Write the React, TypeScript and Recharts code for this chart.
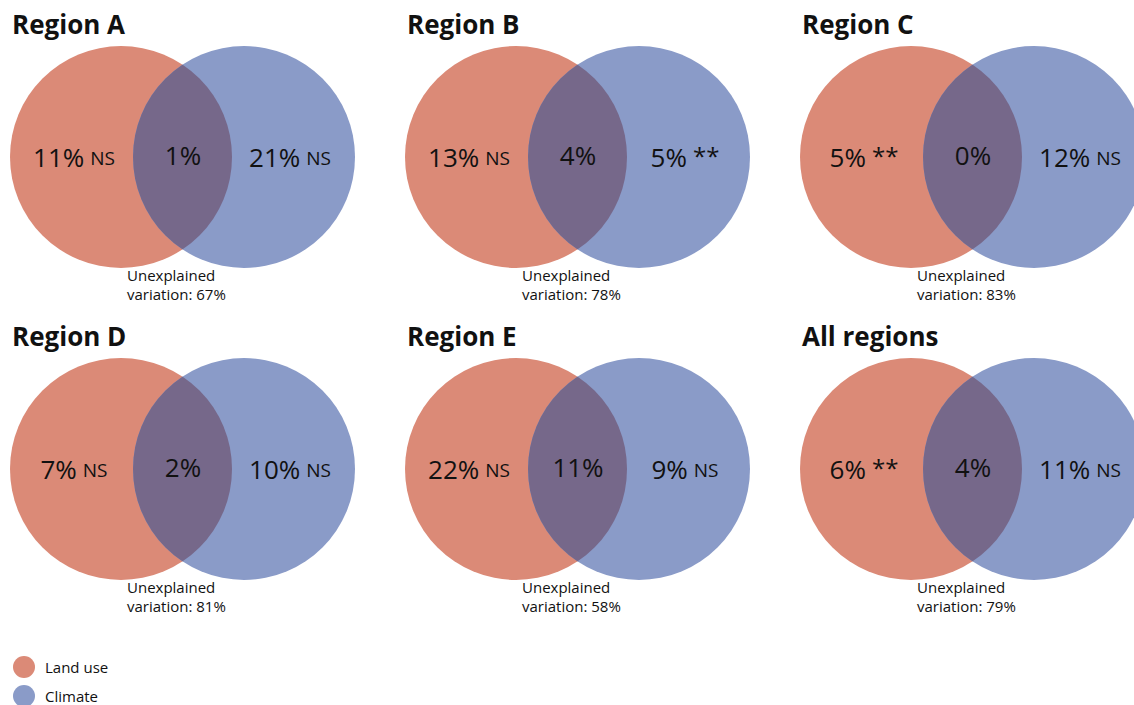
import { ScatterChart, Scatter, XAxis, YAxis } from "recharts";

const titles = ["Region A", "Region B", "Region C", "Region D", "Region E", "All regions"];
const landUse = [11, 13, 5, 7, 22, 6];
const landSig = ["NS", "NS", "**", "NS", "NS", "**"];
const shared = [1, 4, 0, 2, 11, 4];
const climate = [21, 5, 12, 10, 9, 11];
const climSig = ["NS", "**", "NS", "NS", "NS", "NS"];
const unexplained = [67, 78, 83, 81, 58, 79];
const legendItems = ["Land use", "Climate"];

const RED = "#db8a77";
const BLUE = "#8a9bc8";
const MIX = "#76688a";
const R = 111;
const FONT = "'Open Sans', sans-serif";

const colX = [0, 395, 790];
const rowY = [0, 312];

const panels = titles.map((t, i) => {
  const ox = colX[i % 3];
  const oy = rowY[Math.floor(i / 3)];
  return { i, title: t, x: ox, y: oy };
});

const redData = panels.map((p) => ({ ...p, x: p.x + 121, y: p.y + 157 }));
const blueData = panels.map((p) => ({ ...p, x: p.x + 244, y: p.y + 157 }));
const legendData = legendItems.map((name, k) => ({ name, k, x: 24, y: 667 + k * 29 }));

const Circ = (fill: string) => (props: any) => (
  <circle cx={props.cx} cy={props.cy} r={R} fill={fill} />
);

const Overlap = (props: any) => {
  const id = `clip-${props.payload.i}`;
  return (
    <g>
      <defs>
        <clipPath id={id}>
          <circle cx={props.cx + 123} cy={props.cy} r={R} />
        </clipPath>
      </defs>
      <circle cx={props.cx} cy={props.cy} r={R} fill={MIX} clipPath={`url(#${id})`} />
    </g>
  );
};

const Label = (value: number, sig: string | null, cx: number, cy: number) => (
  <text x={cx} y={cy} textAnchor="middle" dominantBaseline="central" fill="#111" fontFamily={FONT}>
    <tspan fontSize={26}>{value}%</tspan>
    {sig && (
      <tspan fontSize={sig === "**" ? 24 : 19} dx={6} dy={sig === "**" ? -2 : 1}>
        {sig}
      </tspan>
    )}
  </text>
);

const Texts = (props: any) => {
  const p = props.payload;
  const { cx, cy } = props;
  const i = p.i;
  return (
    <g fontFamily={FONT}>
      <text x={cx + 12} y={cy + 34} fontSize={26} fontWeight={700} fill="#111">
        {p.title}
      </text>
      {Label(landUse[i], landSig[i], cx + 74, cy + 157)}
      {Label(shared[i], null, cx + 183, cy + 155)}
      {Label(climate[i], climSig[i], cx + 290, cy + 157)}
      <text x={cx + 127} y={cy + 281} fontSize={15} fill="#111">Unexplained</text>
      <text x={cx + 127} y={cy + 300} fontSize={15} fill="#111">
        variation: {unexplained[i]}%
      </text>
    </g>
  );
};

const LegendShape = (props: any) => (
  <g fontFamily={FONT}>
    <circle cx={props.cx} cy={props.cy} r={11} fill={props.payload.k === 0 ? RED : BLUE} />
    <text x={props.cx + 21} y={props.cy} dominantBaseline="central" fontSize={15} fill="#111">
      {props.payload.name}
    </text>
  </g>
);

export default function App() {
  return (
    <div style={{ position: "absolute", left: 0, top: 0, background: "#fff" }}>
      <ScatterChart width={1134} height={705} margin={{ top: 0, right: 0, bottom: 0, left: 0 }}>
        <XAxis type="number" dataKey="x" domain={[0, 1134]} hide />
        <YAxis type="number" dataKey="y" domain={[0, 705]} reversed hide />
        <Scatter data={redData} shape={Circ(RED)} isAnimationActive={false} />
        <Scatter data={blueData} shape={Circ(BLUE)} isAnimationActive={false} />
        <Scatter data={redData} shape={Overlap} isAnimationActive={false} />
        <Scatter data={panels} shape={Texts} isAnimationActive={false} />
        <Scatter data={legendData} shape={LegendShape} isAnimationActive={false} />
      </ScatterChart>
    </div>
  );
}
